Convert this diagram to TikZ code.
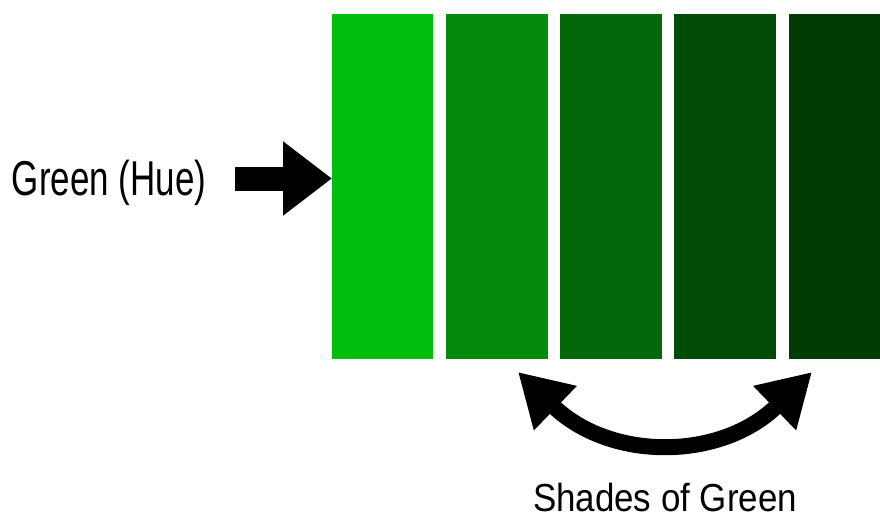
\documentclass[tikz,border=0pt]{standalone}
\usepackage{fontspec}
\usetikzlibrary{arrows.meta}
\newfontfamily\huefont[FakeStretch=0.715]{Liberation Sans}
\newfontfamily\shadefont[FakeStretch=0.893]{Liberation Sans}
\definecolor{gA}{RGB}{2,191,14}
\definecolor{gB}{RGB}{5,138,12}
\definecolor{gC}{RGB}{4,103,9}
\definecolor{gD}{RGB}{1,76,5}
\definecolor{gE}{RGB}{0,59,3}
\tikzset{
  swatch/.style={inner sep=0pt, outer sep=0pt, minimum height=345pt, draw=none},
  label text/.style={inner sep=0pt, outer sep=0pt, anchor=base west, text=black},
  blockarrow/.style={line width=24pt, -{Triangle[length=49pt,width=71pt]}},
  swingarrow/.style={line width=16pt, {Triangle[length=52pt,width=58pt]}-{Triangle[length=52pt,width=58pt]}}
}
\begin{document}
\begin{tikzpicture}[x=1pt,y=-1pt]
\useasboundingbox (0,0) rectangle (880,519);
\fill[white] (0,0) rectangle (880,519);
% swatches
\node[swatch, fill=gA, minimum width=101pt] (r1) at (382.5,186.5) {};
\node[swatch, fill=gB, minimum width=102pt] (r2) at (497,186.5) {};
\node[swatch, fill=gC, minimum width=102pt] (r3) at (611,186.5) {};
\node[swatch, fill=gD, minimum width=102pt] (r4) at (725,186.5) {};
\node[swatch, fill=gE, minimum width=91pt] (r5) at (834.5,186.5) {};
% labels
\node[label text] (hue) at (12,195) {\huefont\fontsize{48.9}{50}\selectfont Green (Hue)};
\node[label text] (shades) at (533,511) {\shadefont\fontsize{39.1}{40}\selectfont Shades of Green};
% block arrow into first swatch
\coordinate (hueTail) at (235,178.5);
\draw[blockarrow] (hueTail) -- (hueTail -| r1.west);
% curved double arrow
\coordinate (shadeL) at (518,372);
\coordinate (shadeR) at (812,372);
\draw[swingarrow] (shadeL) .. controls +(92,89) and +(-92,89) .. (shadeR);
\end{tikzpicture}
\end{document}
